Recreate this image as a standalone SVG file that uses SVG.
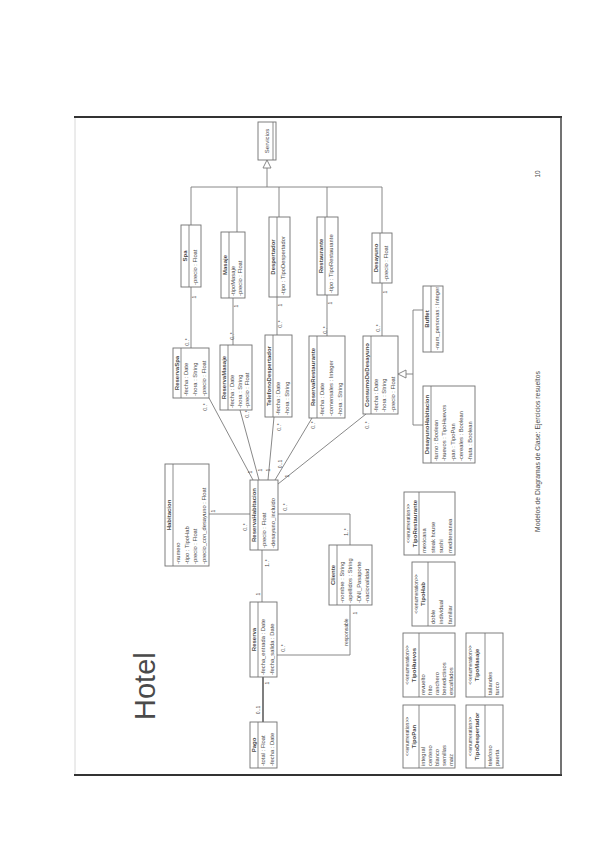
<svg xmlns="http://www.w3.org/2000/svg" width="599" height="848" viewBox="0 0 599 848">
<style>
text{font-family:"Liberation Sans",Arial,sans-serif;fill:#4a4a4a}
.box{fill:#fff;stroke:#707070;stroke-width:0.9}
.dv{stroke:#707070;stroke-width:0.8}
.nm{font-size:6px;text-anchor:middle;font-weight:bold}
.at{font-size:5.8px}
.st{font-size:5px;text-anchor:middle}
.ml{font-size:5px;text-anchor:middle}
.cn{stroke:#7a7a7a;stroke-width:0.9;fill:none}
.tri{fill:#fff;stroke:#7a7a7a;stroke-width:0.9}
</style>
<rect width="599" height="848" fill="#fff"/>
<g id="frame">
<line x1="75" y1="117" x2="75" y2="775" stroke="#d8d8d8" stroke-width="1"/>
<line x1="74" y1="117" x2="562" y2="117" stroke="#333" stroke-width="2"/>
<line x1="74" y1="775" x2="562" y2="775" stroke="#333" stroke-width="2"/>
<line x1="561" y1="117" x2="561" y2="775" stroke="#444" stroke-width="1.5"/>
<text transform="translate(155,720) rotate(-90)" font-size="29" fill="#222">Hotel</text>
<text transform="translate(540,532) rotate(-90)" font-size="6.8" fill="#777">Modelos de Diagramas de Clase: Ejercicios resueltos</text>
<text transform="translate(540,174) rotate(-90)" font-size="6.5" fill="#777" text-anchor="middle">10</text>
</g>
<g id="connectors">
<polygon class="tri" points="267,160 263,168 271,168"/>
<polyline class="cn" points="267,168 267,187"/>
<line class="cn" x1="191" y1="187" x2="382" y2="187"/>
<line class="cn" x1="191" y1="187" x2="191" y2="225"/>
<line class="cn" x1="237" y1="187" x2="237" y2="232"/>
<line class="cn" x1="279" y1="187" x2="279" y2="217"/>
<line class="cn" x1="327" y1="187" x2="327" y2="217"/>
<line class="cn" x1="382" y1="187" x2="382" y2="233"/>
<line class="cn" x1="191" y1="287" x2="191" y2="348"/>
<line class="cn" x1="233" y1="298" x2="233" y2="345"/>
<line class="cn" x1="277" y1="297" x2="277" y2="335"/>
<line class="cn" x1="327" y1="295" x2="327" y2="336"/>
<line class="cn" x1="382" y1="283" x2="382" y2="336"/>
<polygon class="tri" points="398,374 406,370 406,378"/>
<line class="cn" x1="406" y1="374" x2="413" y2="374"/>
<polyline class="cn" points="423,310 413,310 413,425 423,425"/>
<line class="cn" x1="209" y1="398" x2="253" y2="480"/>
<line class="cn" x1="240" y1="410" x2="259" y2="480"/>
<line class="cn" x1="274" y1="417" x2="268" y2="480"/>
<line class="cn" x1="312" y1="418" x2="275" y2="480"/>
<line class="cn" x1="366" y1="414" x2="278" y2="484"/>
<line class="cn" x1="209" y1="514" x2="250" y2="514"/>
<polyline class="cn" points="278,514 350,514 350,545"/>
<line class="cn" x1="262" y1="550" x2="262" y2="602"/>
<polyline class="cn" points="277,655 350,655 350,605"/>
<line x1="263" y1="677" x2="263" y2="722" stroke="#555" stroke-width="1.5"/>
<g class="mls">
<text class="ml" transform="translate(196,297) rotate(-90)">1</text>
<text class="ml" transform="translate(189,342) rotate(-90)">0..*</text>
<text class="ml" transform="translate(238,306) rotate(-90)">1</text>
<text class="ml" transform="translate(234,336) rotate(-90)">0..*</text>
<text class="ml" transform="translate(282,305) rotate(-90)">1</text>
<text class="ml" transform="translate(282,324) rotate(-90)">0..*</text>
<text class="ml" transform="translate(332,303) rotate(-90)">1</text>
<text class="ml" transform="translate(327,330) rotate(-90)">0..*</text>
<text class="ml" transform="translate(387,292) rotate(-90)">1</text>
<text class="ml" transform="translate(380,328) rotate(-90)">0..*</text>
<text class="ml" transform="translate(207,407) rotate(-90)">0..*</text>
<text class="ml" transform="translate(249,414) rotate(-90)">0..*</text>
<text class="ml" transform="translate(281,427) rotate(-90)">0..*</text>
<text class="ml" transform="translate(315,425) rotate(-90)">0..*</text>
<text class="ml" transform="translate(369,425) rotate(-90)">0..*</text>
<text class="ml" transform="translate(252,472) rotate(-90)">1</text>
<text class="ml" transform="translate(262,470) rotate(-90)">1</text>
<text class="ml" transform="translate(270,470) rotate(-90)">1</text>
<text class="ml" transform="translate(282,464) rotate(-90)">0..1</text>
<text class="ml" transform="translate(289,476) rotate(-90)">1</text>
<text class="ml" transform="translate(215,511) rotate(-90)">1</text>
<text class="ml" transform="translate(247,527) rotate(-90)">0..*</text>
<text class="ml" transform="translate(287,507) rotate(-90)">0..*</text>
<text class="ml" transform="translate(348,532) rotate(-90)">1..*</text>
<text class="ml" transform="translate(269,563) rotate(-90)">1..*</text>
<text class="ml" transform="translate(260,594) rotate(-90)">1</text>
<text class="ml" transform="translate(285,648) rotate(-90)">0..*</text>
<text class="ml" transform="translate(348,632) rotate(-90)">responsable</text>
<text class="ml" transform="translate(357,613) rotate(-90)">1</text>
<text class="ml" transform="translate(269,683) rotate(-90)">1</text>
<text class="ml" transform="translate(260,710) rotate(-90)">0..1</text>
</g>
</g>
<g id="servicios" transform="translate(258,160) rotate(-90)">
<rect class="box" width="38" height="18"/><line class="dv" x1="0" y1="15" x2="38" y2="15"/>
<text class="nm" x="19" y="10.5" style="font-weight:normal">Servicios</text></g>
<g id="spa" transform="translate(181,287) rotate(-90)">
<rect class="box" width="62" height="20"/><line class="dv" x1="0" y1="8" x2="62" y2="8"/>
<text class="nm" x="31" y="6.3">Spa</text>
<text class="at" x="2" y="15.5">-precio : Float</text></g>
<g id="masaje" transform="translate(221,298) rotate(-90)">
<rect class="box" width="66" height="24"/><line class="dv" x1="0" y1="8" x2="66" y2="8"/>
<text class="nm" x="33" y="6.3">Masaje</text>
<text class="at" x="2" y="14">-tipoMasaje</text>
<text class="at" x="2" y="21">-precio : Float</text></g>
<g id="despertador" transform="translate(269,297) rotate(-90)">
<rect class="box" width="80" height="21"/><line class="dv" x1="0" y1="8" x2="80" y2="8"/>
<text class="nm" x="40" y="6.3">Despertador</text>
<text class="at" x="2" y="15.5">-tipo : TipoDespertador</text></g>
<g id="restaurante" transform="translate(317,295) rotate(-90)">
<rect class="box" width="78" height="21"/><line class="dv" x1="0" y1="8" x2="78" y2="8"/>
<text class="nm" x="39" y="6.3">Restaurante</text>
<text class="at" x="2" y="15.5">-tipo : TipoRestaurante</text></g>
<g id="desayuno" transform="translate(372,283) rotate(-90)">
<rect class="box" width="50" height="20"/><line class="dv" x1="0" y1="8" x2="50" y2="8"/>
<text class="nm" x="25" y="6.3">Desayuno</text>
<text class="at" x="2" y="15.5">-precio : Float</text></g>
<g id="buffet" transform="translate(423,352) rotate(-90)">
<rect class="box" width="66" height="20"/><line class="dv" x1="0" y1="8" x2="66" y2="8"/>
<text class="nm" x="33" y="6.3">Buffet</text>
<text class="at" x="2" y="15.5">-num_personas : Integer</text></g>
<g id="desayunohabitacion" transform="translate(423,463) rotate(-90)">
<rect class="box" width="77" height="52"/><line class="dv" x1="0" y1="8" x2="77" y2="8"/>
<text class="nm" x="38.5" y="6.3">DesayunoHabitacion</text>
<text class="at" x="2" y="14.9">-turno : Boolean</text>
<text class="at" x="2" y="23.3">-huevos : TipoHuevos</text>
<text class="at" x="2" y="31.7">-pan : TipoPan</text>
<text class="at" x="2" y="40.1">-cereales : Boolean</text>
<text class="at" x="2" y="48.5">-fruta : Boolean</text></g>
<g id="reservaspa" transform="translate(173,398) rotate(-90)">
<rect class="box" width="50" height="36"/><line class="dv" x1="0" y1="8" x2="50" y2="8"/>
<text class="nm" x="25" y="6.3">ReservaSpa</text>
<text class="at" x="2" y="15.2">-fecha : Date</text>
<text class="at" x="2" y="23.8">-hora : String</text>
<text class="at" x="2" y="32.5">-precio : Float</text></g>
<g id="reservamasaje" transform="translate(220,410) rotate(-90)">
<rect class="box" width="65" height="32"/><line class="dv" x1="0" y1="8" x2="65" y2="8"/>
<text class="nm" x="32.5" y="6.3">ReservaMasaje</text>
<text class="at" x="2" y="14.3">-fecha : Date</text>
<text class="at" x="2" y="21.6">-hora : String</text>
<text class="at" x="2" y="28.9">-precio : Float</text></g>
<g id="telefonodespertador" transform="translate(265,417) rotate(-90)">
<rect class="box" width="82" height="27"/><line class="dv" x1="0" y1="8" x2="82" y2="8"/>
<text class="nm" x="41" y="6.3">TelefonoDespertador</text>
<text class="at" x="2" y="15">-fecha : Date</text>
<text class="at" x="2" y="23.5">-hora : String</text></g>
<g id="reservarestaurante" transform="translate(309,418) rotate(-90)">
<rect class="box" width="82" height="36"/><line class="dv" x1="0" y1="8" x2="82" y2="8"/>
<text class="nm" x="41" y="6.3">ReservaRestaurante</text>
<text class="at" x="2" y="15.2">-fecha : Date</text>
<text class="at" x="2" y="23.8">-comensales : Integer</text>
<text class="at" x="2" y="32.5">-hora : String</text></g>
<g id="consumodesayuno" transform="translate(363,414) rotate(-90)">
<rect class="box" width="78" height="35"/><line class="dv" x1="0" y1="8" x2="78" y2="8"/>
<text class="nm" x="39" y="6.3">ConsumoDeDesayuno</text>
<text class="at" x="2" y="15">-fecha : Date</text>
<text class="at" x="2" y="23.3">-hora : String</text>
<text class="at" x="2" y="31.6">-precio : Float</text></g>
<g id="habitacion" transform="translate(165,566) rotate(-90)">
<rect class="box" width="102" height="44"/><line class="dv" x1="0" y1="8" x2="102" y2="8"/>
<text class="nm" x="51" y="6.3">Habitacion</text>
<text class="at" x="2" y="15">-numero</text>
<text class="at" x="2" y="23.5">-tipo : TipoHab</text>
<text class="at" x="2" y="32">-precio : Float</text>
<text class="at" x="2" y="40.5">-precio_con_desayuno : Float</text></g>
<g id="reservahabitacion" transform="translate(250,550) rotate(-90)">
<rect class="box" width="70" height="28"/><line class="dv" x1="0" y1="8" x2="70" y2="8"/>
<text class="nm" x="35" y="6.3">ReservaHabitacion</text>
<text class="at" x="2" y="15.5">-precio : Float</text>
<text class="at" x="2" y="24.5">-desayuno_incluido</text></g>
<g id="cliente" transform="translate(329,605) rotate(-90)">
<rect class="box" width="60" height="43"/><line class="dv" x1="0" y1="8" x2="60" y2="8"/>
<text class="nm" x="30" y="6.3">Cliente</text>
<text class="at" x="2" y="15">-nombre : String</text>
<text class="at" x="2" y="23.3">-apellidos : String</text>
<text class="at" x="2" y="31.6">-DNI_Pasaporte</text>
<text class="at" x="2" y="39.9">-nacionalidad</text></g>
<g id="reserva" transform="translate(250,677) rotate(-90)">
<rect class="box" width="75" height="27"/><line class="dv" x1="0" y1="8" x2="75" y2="8"/>
<text class="nm" x="37.5" y="6.3">Reserva</text>
<text class="at" x="2" y="15">-fecha_entrada : Date</text>
<text class="at" x="2" y="23.5">-fecha_salida : Date</text></g>
<g id="pago" transform="translate(250,768) rotate(-90)">
<rect class="box" width="46" height="27"/><line class="dv" x1="0" y1="8" x2="46" y2="8"/>
<text class="nm" x="23" y="6.3">Pago</text>
<text class="at" x="2" y="15">-total : Float</text>
<text class="at" x="2" y="23.5">-fecha : Date</text></g>
<g id="tiporestaurante" transform="translate(404,555) rotate(-90)">
<rect class="box" width="63" height="51"/><line class="dv" x1="0" y1="15" x2="63" y2="15"/>
<text class="st" x="31.5" y="5.5">&lt;&lt;enumeration&gt;&gt;</text>
<text class="nm" x="31.5" y="12.5">TipoRestaurante</text>
<text class="at" x="2" y="22">mexicana</text>
<text class="at" x="2" y="30.5">steak house</text>
<text class="at" x="2" y="39">sushi</text>
<text class="at" x="2" y="47.5">mediterranea</text></g>
<g id="tipohab" transform="translate(412,626) rotate(-90)">
<rect class="box" width="64" height="43"/><line class="dv" x1="0" y1="16" x2="64" y2="16"/>
<text class="st" x="32" y="5.5">&lt;&lt;enumeration&gt;&gt;</text>
<text class="nm" x="32" y="13">TipoHab</text>
<text class="at" x="2" y="23">doble</text>
<text class="at" x="2" y="31.3">individual</text>
<text class="at" x="2" y="39.6">familiar</text></g>
<g id="tipohuevos" transform="translate(403,697) rotate(-90)">
<rect class="box" width="64" height="52"/><line class="dv" x1="0" y1="16" x2="64" y2="16"/>
<text class="st" x="32" y="5.5">&lt;&lt;enumeration&gt;&gt;</text>
<text class="nm" x="32" y="13">TipoHuevos</text>
<text class="at" x="2" y="22">revuelto</text>
<text class="at" x="2" y="29">frito</text>
<text class="at" x="2" y="36">ranchero</text>
<text class="at" x="2" y="43">benedictinos</text>
<text class="at" x="2" y="50">escalfados</text></g>
<g id="tipopan" transform="translate(403,768) rotate(-90)">
<rect class="box" width="63" height="52"/><line class="dv" x1="0" y1="16" x2="63" y2="16"/>
<text class="st" x="31.5" y="5.5">&lt;&lt;enumeration&gt;&gt;</text>
<text class="nm" x="31.5" y="13">TipoPan</text>
<text class="at" x="2" y="22">integral</text>
<text class="at" x="2" y="29">centeno</text>
<text class="at" x="2" y="36">blanco</text>
<text class="at" x="2" y="43">semillas</text>
<text class="at" x="2" y="50">maiz</text></g>
<g id="tipomasaje" transform="translate(466,697) rotate(-90)">
<rect class="box" width="64" height="37"/><line class="dv" x1="0" y1="19" x2="64" y2="19"/>
<text class="st" x="32" y="5.5">&lt;&lt;enumeration&gt;&gt;</text>
<text class="nm" x="32" y="13">TipoMasaje</text>
<text class="at" x="2" y="26">tailandes</text>
<text class="at" x="2" y="33">turco</text></g>
<g id="tipodespertador" transform="translate(466,768) rotate(-90)">
<rect class="box" width="63" height="37"/><line class="dv" x1="0" y1="19" x2="63" y2="19"/>
<text class="st" x="31.5" y="5.5">&lt;&lt;enumeration&gt;&gt;</text>
<text class="nm" x="31.5" y="13">TipoDespertador</text>
<text class="at" x="2" y="26">telefono</text>
<text class="at" x="2" y="33">puerta</text></g>
</svg>
